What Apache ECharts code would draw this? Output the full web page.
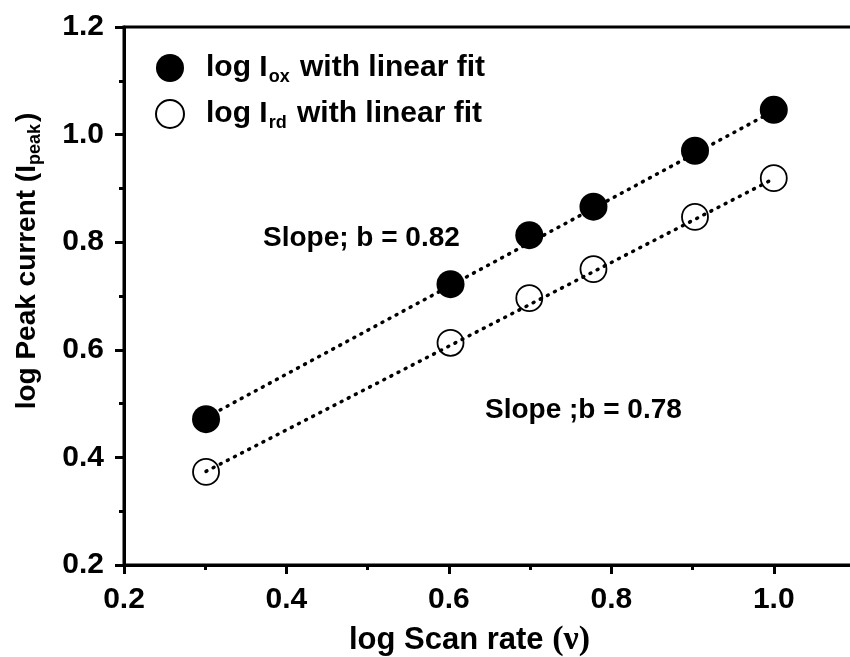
<!DOCTYPE html>
<html>
<head>
<meta charset="utf-8">
<script src="https://cdn.jsdelivr.net/npm/echarts@6/dist/echarts.min.js"></script>
<style>
  html, body { margin: 0; padding: 0; background: #fff; }
  #chart { width: 850px; height: 657px; }
</style>
</head>
<body>
<div id="chart"></div>
<script>
// log scan rate (x) and log peak currents
var logScan = [0.301, 0.602, 0.699, 0.778, 0.903, 1.0];
var logIox = [0.471, 0.722, 0.813, 0.866, 0.970, 1.046];
var logIrd = [0.373, 0.613, 0.696, 0.750, 0.847, 0.919];
// ends of the dotted linear fits
var fitX = [0.301, 1.0];
var fitOx = [0.474, 1.044];
var fitRd = [0.374, 0.918];

var FONT = 'Liberation Sans';

function pairs(xs, ys) {
    var out = [];
    for (var i = 0; i < xs.length; i++) out.push([xs[i], ys[i]]);
    return out;
}

var chart = echarts.init(document.getElementById('chart'));

var axisCommon = {
    axisLine: { show: true, onZero: false, lineStyle: { color: '#000', width: 3 } },
    axisTick: { show: true, inside: false, length: 9, lineStyle: { color: '#000', width: 3 } },
    minorTick: { show: true, splitNumber: 2, length: 5, lineStyle: { color: '#000', width: 3 } },
    splitLine: { show: false },
    axisLabel: {
        color: '#000', fontFamily: FONT, fontWeight: 'bold', fontSize: 30,
        formatter: function (v) { return v.toFixed(1); }
    }
};

var option = {
    animation: false,
    backgroundColor: '#fff',
    grid: {
        left: 124, top: 27, right: -5, bottom: 92,
        outerBoundsMode: 'none',
        containLabel: false,
        show: true, borderColor: '#000', borderWidth: 3
    },
    legend: {
        orient: 'vertical',
        left: 150, top: 48,
        itemWidth: 28, itemHeight: 28, itemGap: 13,
        data: ['ox', 'rd'],
        formatter: function (n) { return '{g|}{t|log I}{s|' + n + '}{t| with linear fit}'; },
        textStyle: {
            color: '#000', fontFamily: FONT, fontWeight: 'bold', fontSize: 30,
            rich: {
                g: { width: 17 },
                t: { fontFamily: FONT, fontWeight: 'bold', fontSize: 30, color: '#000' },
                s: { fontFamily: FONT, fontWeight: 'bold', fontSize: 18, color: '#000', padding: [18, 2, 0, 1] }
            }
        }
    },
    xAxis: Object.assign({}, axisCommon, {
        type: 'value', min: 0.2, max: 1.1, interval: 0.2,
        axisLabel: Object.assign({}, axisCommon.axisLabel, {
            margin: 20,
            formatter: function (v) { return v > 1.05 ? '' : v.toFixed(1); }
        }),
        name: 'log Scan rate {n|(ν)}',
        nameLocation: 'middle', nameGap: 58,
        nameTextStyle: {
            color: '#000', fontFamily: FONT, fontWeight: 'bold', fontSize: 31,
            padding: [0, 40, 0, 0],
            rich: { n: { fontFamily: 'Liberation Serif', fontSize: 34, color: '#000' } }
        }
    }),
    yAxis: Object.assign({}, axisCommon, {
        type: 'value', min: 0.2, max: 1.2, interval: 0.2,
        axisLabel: Object.assign({}, axisCommon.axisLabel, { margin: 20 }),
        name: '{t|log Peak current (I}{s|peak}{t|)}',
        nameLocation: 'middle', nameGap: 80, nameRotate: 90,
        nameTextStyle: {
            color: '#000', fontFamily: FONT, fontWeight: 'bold', fontSize: 28,
            padding: [0, 0, 0, 70],
            rich: {
                t: { fontFamily: FONT, fontWeight: 'bold', fontSize: 28, color: '#000' },
                s: { fontFamily: FONT, fontWeight: 'bold', fontSize: 18, color: '#000', padding: [16, 2, 0, 0] }
            }
        }
    }),
    graphic: [
        {
            type: 'text', left: 263, top: 224,
            style: { text: 'Slope; b = 0.82', fill: '#000', font: 'bold 28px "Liberation Sans"' }
        },
        {
            type: 'text', left: 485, top: 396,
            style: { text: 'Slope ;b = 0.78', fill: '#000', font: 'bold 28px "Liberation Sans"' }
        }
    ],
    series: [
        {
            name: 'fitOx', type: 'line', data: pairs(fitX, fitOx),
            symbol: 'none', silent: true, z: 1,
            lineStyle: { color: '#000', width: 3.5, type: [1, 7], cap: 'round' }
        },
        {
            name: 'fitRd', type: 'line', data: pairs(fitX, fitRd),
            symbol: 'none', silent: true, z: 1,
            lineStyle: { color: '#000', width: 3.5, type: [1, 7], cap: 'round' }
        },
        {
            name: 'ox', type: 'scatter', data: pairs(logScan, logIox),
            symbol: 'circle', symbolSize: 28, z: 3,
            itemStyle: { color: '#000', opacity: 1 }
        },
        {
            name: 'rd', type: 'scatter', data: pairs(logScan, logIrd),
            symbol: 'circle', symbolSize: 26, z: 3,
            itemStyle: { color: 'rgba(255,255,255,0)', borderColor: '#000', borderWidth: 1.8, opacity: 1 }
        }
    ]
};

chart.setOption(option);
</script>
</body>
</html>
